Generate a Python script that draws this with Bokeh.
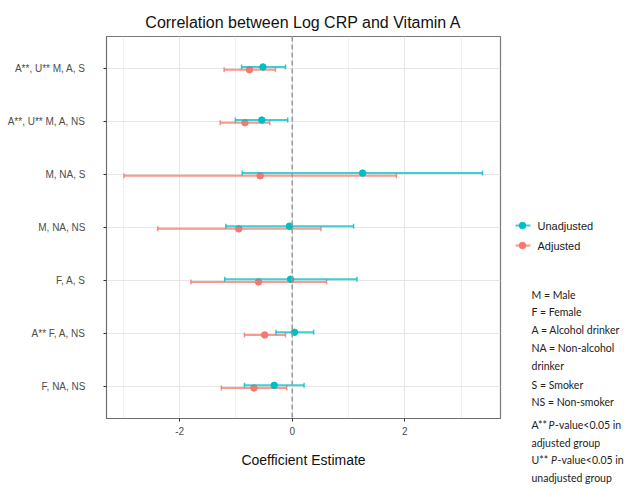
import math
from bokeh.plotting import figure
from bokeh.layouts import row
from bokeh.models import (ColumnDataSource, FactorRange, Span, FixedTicker, Range1d)
from bokeh.transform import dodge
from bokeh.core.properties import value
from bokeh.embed import file_html
from bokeh.resources import INLINE

# ---------------- data ----------------
groups = ["A**, U** M, A, S", "A**, U** M, A, NS", "M, NA, S", "M, NA, NS",
          "F, A, S", "A** F, A, NS", "F, NA, NS"]
unadj_est = [-0.52, -0.54, 1.25, -0.05, -0.03, 0.04, -0.32]
unadj_lo = [-0.90, -1.01, -0.89, -1.18, -1.20, -0.29, -0.85]
unadj_hi = [-0.12, -0.08, 3.38, 1.09, 1.15, 0.38, 0.21]
adj_est = [-0.76, -0.84, -0.57, -0.95, -0.60, -0.49, -0.68]
adj_lo = [-1.21, -1.28, -2.99, -2.39, -1.80, -0.85, -1.26]
adj_hi = [-0.30, -0.40, 1.85, 0.51, 0.61, -0.12, -0.10]
x_ticks = [-2, 0, 2]
x_minor = [-3, -1, 1, 3]
series_names = ["Unadjusted", "Adjusted"]
title_text = "Correlation between Log CRP and Vitamin A"
x_label = "Coefficient Estimate"
notes = ["M = Male", "F = Female", "A = Alcohol drinker", "NA = Non-alcohol",
         "drinker", "S = Smoker", "NS = Non-smoker"]
pnote_tags = ["A**", "U**"]
pnote_mid = "-value<0.05 in"
pnote_second = ["adjusted group", "unadjusted group"]

TEAL = "#00BFC4"
SALMON = "#F8766D"
SANS = "Liberation Sans"
NOTE_FONT = "Lato"
H = 488

# ---------------- main panel ----------------
p = figure(width=502, height=H, output_backend="svg", toolbar_location=None,
           title=title_text,
           x_range=(-3.30, 3.70),
           y_range=FactorRange(factors=groups[::-1], range_padding=0.1,
                               range_padding_units="absolute"),
           min_border_left=106, min_border_right=2, min_border_top=36,
           min_border_bottom=70)
p.title.text_font = SANS
p.title.text_font_size = "16px"
p.title.text_font_style = "normal"
p.title.text_color = "#111111"
p.title.align = "center"
p.title.standoff = 11
p.background_fill_color = "white"
p.border_fill_color = "white"
p.outline_line_color = "#7a7a7a"
p.outline_line_width = 1.2

p.xgrid.ticker = FixedTicker(ticks=x_ticks, minor_ticks=x_minor)
p.xgrid.grid_line_color = "#e6e6e6"
p.xgrid.minor_grid_line_color = "#efefef"
p.ygrid.grid_line_color = "#e6e6e6"

p.xaxis.ticker = FixedTicker(ticks=x_ticks, minor_ticks=x_minor)
p.xaxis.major_label_overrides = {t: str(t) for t in x_ticks}
p.xaxis.axis_label = x_label
p.xaxis.axis_label_text_font = SANS
p.xaxis.axis_label_text_font_size = "14px"
p.xaxis.axis_label_text_font_style = "normal"
p.xaxis.axis_label_text_color = "#111111"
p.xaxis.axis_label_standoff = 14
p.xaxis.major_label_text_font = SANS
p.xaxis.major_label_text_font_size = "10px"
p.xaxis.major_label_text_color = "#4d4d4d"
p.xaxis.major_label_standoff = 4
p.xaxis.minor_tick_line_color = None
for ax in (p.xaxis, p.yaxis):
    ax.axis_line_color = "#6e6e6e"
    ax.major_tick_line_color = "#333333"
    ax.major_tick_out = 3
    ax.major_tick_in = 0
p.yaxis.major_label_text_font = SANS
p.yaxis.major_label_text_font_size = "10px"
p.yaxis.major_label_text_color = "#4d4d4d"
p.yaxis.major_label_standoff = 18

p.add_layout(Span(location=0, dimension="height", line_color="#9a9a9a",
                  line_width=1.6, line_dash="5 3"))

for est, lo, hi, col, off in [(adj_est, adj_lo, adj_hi, SALMON, -0.025),
                              (unadj_est, unadj_lo, unadj_hi, TEAL, 0.025)]:
    src = ColumnDataSource(dict(group=groups, est=est, lo=lo, hi=hi))
    yy = dodge("group", off, range=p.y_range)
    p.segment(x0="lo", x1="hi", y0=yy, y1=yy, source=src, line_color=col,
              line_width=2, line_alpha=0.75)
    for end in ("lo", "hi"):
        p.scatter(x=end, y=yy, source=src, marker="dash", angle=math.pi / 2, size=5,
                  line_color=col, line_width=1.5, line_alpha=0.8)
    p.scatter(x="est", y=yy, source=src, size=6.5, fill_color=col, line_color=col)

# ---------------- right-hand side: legend and notes ----------------
side = figure(width=122, height=H, output_backend="svg", toolbar_location=None,
              x_range=Range1d(502, 624), y_range=Range1d(H, 0),
              x_axis_type=None, y_axis_type=None,
              min_border_left=0, min_border_right=0, min_border_top=0,
              min_border_bottom=0)
side.frame_align = False
side.grid.visible = False
side.outline_line_color = None
side.background_fill_color = "white"
side.border_fill_color = "white"

key_y = [225, 245]
key_col = [TEAL, SALMON]
side.segment(x0=[515, 515], x1=[530, 530], y0=key_y, y1=key_y, line_color=key_col,
             line_width=2, line_alpha=0.75)
side.scatter(x=[522, 522], y=key_y, size=6.5, fill_color=key_col, line_color=key_col)
side.text(x=[537, 537], y=key_y, text=series_names, text_baseline="middle",
          text_font=value(SANS), text_font_size="11px", text_color="#1a1a1a")

note_x = 531
fs = "10.5px"
note_y = [294, 311.7, 329.3, 347.3, 365.7, 384, 401.7]
side.text(x=[note_x] * len(notes), y=note_y, text=notes, text_baseline="middle",
          text_font=value(NOTE_FONT), text_font_size=fs, text_color="#222222")
p1_y = [424, 459]
p2_y = [442, 477]
side.text(x=[note_x] * 2, y=p1_y, text=pnote_tags, text_baseline="middle",
          text_font=value(NOTE_FONT), text_font_size=fs, text_color="#222222")
side.text(x=[note_x + 17, note_x + 19.5], y=p1_y, text=["P", "P"], text_baseline="middle",
          text_font=value(NOTE_FONT), text_font_style="italic",
          text_font_size=fs, text_color="#222222")
side.text(x=[note_x + 23.5, note_x + 26], y=p1_y, text=[pnote_mid] * 2,
          text_baseline="middle",
          text_font=value(NOTE_FONT), text_font_size=fs, text_color="#222222")
side.text(x=[note_x] * 2, y=p2_y, text=pnote_second, text_baseline="middle",
          text_font=value(NOTE_FONT), text_font_size=fs, text_color="#222222")

layout = row(p, side, spacing=0)
open("out.html", "w").write(file_html(layout, INLINE))
